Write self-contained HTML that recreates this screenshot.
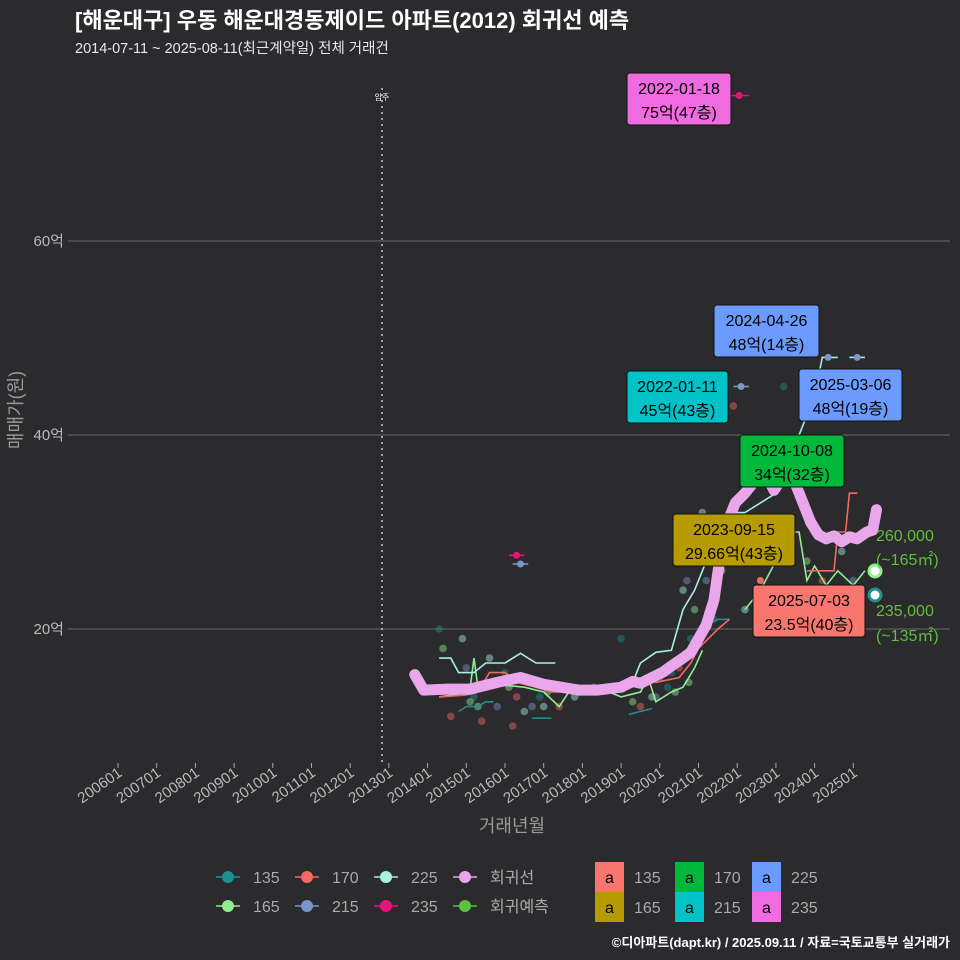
<!DOCTYPE html>
<html><head><meta charset="utf-8">
<style>
html,body{margin:0;padding:0;background:#2b2a2c;}
svg{display:block;font-family:"Liberation Sans","Noto Sans CJK KR",sans-serif;}
</style></head>
<body>
<svg id="chart" width="960" height="960" viewBox="0 0 960 960">
<rect width="960" height="960" fill="#2b2a2c"/>
<text x="75" y="28" fill="#ffffff" font-size="22" font-weight="bold">[해운대구] 우동 해운대경동제이드 아파트(2012) 회귀선 예측</text>
<text x="75" y="53" fill="#e8e8e8" font-size="14.5">2014-07-11 ~ 2025-08-11(최근계약일) 전체 거래건</text>
<g id="grid"></g>
<g id="xaxis"></g>
<g id="yaxis"></g>
<line x1="382" y1="88" x2="382" y2="762" stroke="#cccccc" stroke-width="1.5" stroke-dasharray="2,4"/>
<text x="382" y="100" fill="#ffffff" font-size="8" text-anchor="middle">입주</text>
<g id="points"></g>
<g id="lines"></g>
<g id="reg"></g>
<g id="labels"></g>
<text x="512" y="832" fill="#999999" font-size="18" text-anchor="middle">거래년월</text>
<text transform="translate(22,410) rotate(-90)" fill="#999999" font-size="18" text-anchor="middle">매매가(원)</text>
<g id="legend"></g>
<text x="950" y="947" fill="#ffffff" font-size="13" font-weight="bold" text-anchor="end">©디아파트(dapt.kr) / 2025.09.11 / 자료=국토교통부 실거래가</text>
</svg>
<script>
const NS="http://www.w3.org/2000/svg";
const yTicks=[20,40,60];
const yTickLabels=["20억","40억","60억"];
const xTickYears=[2006,2007,2008,2009,2010,2011,2012,2013,2014,2015,2016,2017,2018,2019,2020,2021,2022,2023,2024,2025];
const xTickLabels=["200601","200701","200801","200901","201001","201101","201201","201301","201401","201501","201601","201701","201801","201901","202001","202101","202201","202301","202401","202501"];
const s135=[[2014.8,11.5],[2015.0,12],[2015.3,12],[2015.5,12.5],[2015.7,12.5]];
const s135b=[[2016.7,10.8],[2017.2,10.8]];
const s135c=[[2019.2,11.2],[2019.5,11.5],[2019.8,11.8]];
const s135d=[[2021.2,20.5],[2021.5,21],[2021.8,21]];
const s165=[[2014.3,13],[2014.8,13.3],[2015.1,14],[2015.2,17],[2015.3,14],[2015.7,14.5],[2016.0,14.2],[2016.5,14],[2017.0,13.5],[2017.4,12],[2017.7,13.8],[2018.5,13.8],[2019.0,13],[2019.5,13.5],[2019.7,15],[2019.9,12.5],[2020.3,13.5],[2020.6,14],[2020.9,16],[2021.1,17.8]];
const s165b=[[2022.2,22],[2022.6,24],[2023.0,27],[2023.3,30],[2023.6,30],[2023.8,25],[2024.0,26.5],[2024.3,24.5],[2024.6,26],[2025.0,24.5],[2025.3,26]];
const s170=[[2014.3,13],[2015.0,13.2],[2015.3,13.5],[2015.6,15.5],[2016.0,15.5],[2016.3,14.5],[2016.8,14],[2017.2,13.5],[2018.3,13.5],[2019.0,14.5],[2019.5,14.8],[2019.9,14.5],[2020.5,15],[2020.8,16.5],[2021.0,18],[2021.5,20],[2021.8,21]];
const s170b=[[2023.8,26],[2024.5,26],[2024.6,30],[2024.8,30],[2024.9,34],[2025.1,34]];
const s215=[[2016.2,26.7],[2016.6,26.7]];
const s215b=[[2021.9,45],[2022.3,45]];
const s225=[[2014.3,17],[2014.6,17],[2014.8,15.5],[2015.2,15.5],[2015.5,16.5],[2016.0,16.5],[2016.4,17.5],[2016.8,16.5],[2017.3,16.5]];
const s225b=[[2019.3,14.5],[2019.5,16.5],[2019.9,17.6],[2020.3,17.8],[2020.6,22],[2020.9,24],[2021.1,26],[2021.3,28],[2021.6,31],[2021.9,32],[2022.2,32],[2022.6,33],[2023.0,34],[2023.3,36],[2023.6,40],[2024.0,44],[2024.2,48],[2024.6,48]];
const s225c=[[2024.9,48],[2025.3,48]];
const s235=[[2016.1,27.6],[2016.5,27.6]];
const s235b=[[2021.8,75],[2022.3,75]];
const regLine=[[2013.67,15.3],[2013.9,13.7],[2014.5,13.8],[2015.1,13.8],[2015.8,14.5],[2016.4,15],[2017.0,14.3],[2017.9,13.7],[2018.4,13.7],[2019.0,14],[2019.3,14.6],[2019.5,14.4],[2019.75,14.9],[2020.1,15.6],[2020.3,16.2],[2020.6,17],[2020.8,17.6],[2021.0,19],[2021.2,20.4],[2021.4,23],[2021.55,27.2],[2021.75,31],[2021.95,33],[2022.2,34],[2022.5,35.5],[2022.7,36.3],[2022.95,34.3],[2023.3,36.4],[2023.5,35],[2023.7,33],[2023.9,31],[2024.1,29.7],[2024.3,29.3],[2024.5,29.6],[2024.7,29],[2024.9,29.5],[2025.1,29.3],[2025.35,30],[2025.5,30.2],[2025.6,32.3]];
const ptYears=[2014.3,2014.4,2014.6,2014.9,2015.0,2015.2,2015.3,2015.4,2015.6,2015.8,2016.0,2016.1,2016.3,2016.5,2016.7,2016.9,2017.1,2017.4,2017.8,2018.3,2019.0,2019.3,2019.5,2019.8,2020.0,2020.2,2020.4,2020.5,2020.6,2020.7,2020.8,2020.9,2021.0,2021.1,2021.2,2021.4,2021.6,2021.9,2022.2,2022.7,2023.2,2023.8,2024.2,2024.7,2025.0,2014.5,2015.1,2016.2,2017.0,2019.9,2020.3,2020.75,2021.3];
const ptValues=[20,18,11,19,16,13,12,10.5,17,12,15.5,14,13,11.5,12,13,13.5,12,13,14,19,12.5,12,13,15,14,13.5,16,24,25,19,22,19,32,25,21,26,43,22,35,45,27,25,28,25,13.5,12.5,10,12,13,15.5,14.5,30];
const ptColors=["#1f8f8f","#90ee90","#f26b63","#a6f0e6","#7b96c8"];
const callDates=["2022-01-18","2024-04-26","2022-01-11","2025-03-06","2024-10-08","2023-09-15","2025-07-03"];
const callTexts=["75억(47층)","48억(14층)","45억(43층)","48억(19층)","34억(32층)","29.66억(43층)","23.5억(40층)"];
const callFill=["#f06ae0","#6b9bff","#00c3c8","#6b9bff","#00b93a","#b59a00","#f8766d"];
const callBox=[[627,73,104],[714,305,105],[627,371,101],[799,369,103],[740,435,104],[673,514,122],[753,585,112]];

const X=t=>118+(t-2006)*38.7;
const Y=v=>629-(v-20)*9.7;
function mk(tag,attrs,parent,name){const e=document.createElementNS(NS,tag);for(const k in attrs)e.setAttribute(k,attrs[k]);


parent.appendChild(e);return e;}
const g=id=>document.getElementById(id);
yTicks.forEach((v,i)=>{
 mk('line',{x1:68,x2:950,y1:Y(v),y2:Y(v),stroke:'#6a6a6a','stroke-width':1},g('grid'),'y-gridline');
 const t=mk('text',{x:64,y:Y(v)+5,fill:'#bbbbbb','font-size':15,'text-anchor':'end'},g('yaxis'),'y-tick-label');t.textContent=yTickLabels[i];
});
xTickYears.forEach((yr,i)=>{
 const x=X(yr);
 mk('line',{x1:x,x2:x,y1:763,y2:768,stroke:'#aaaaaa'},g('xaxis'),'x-tick');
 const t=mk('text',{transform:`translate(${x+5},775) rotate(-35)`,fill:'#bbbbbb','font-size':15,'text-anchor':'end'},g('xaxis'),'x-tick-label');t.textContent=xTickLabels[i];
});
ptYears.forEach((t,i)=>{
 mk('circle',{cx:X(t),cy:Y(ptValues[i]),r:3.8,fill:ptColors[i%ptColors.length],opacity:0.45},g('points'),'trade-point');
});
function line(arr,color,name,w){
 mk('path',{d:arr.map((p,i)=>(i?'L':'M')+X(p[0]).toFixed(1)+','+Y(p[1]).toFixed(1)).join(''),fill:'none',stroke:color,'stroke-width':w||1.6},g('lines'),name);
}
[s135,s135b,s135c,s135d].forEach(a=>line(a,'#1f8f8f','line-135'));
[s165,s165b].forEach(a=>line(a,'#90ee90','line-165'));
[s170,s170b].forEach(a=>line(a,'#f26b63','line-170'));
[s215,s215b].forEach(a=>line(a,'#7b96c8','line-215'));
[s225,s225b,s225c].forEach(a=>line(a,'#a6f0e6','line-225'));
[s235,s235b].forEach(a=>line(a,'#e8137b','line-235'));
[[2016.3,27.6,'#e8137b'],[2016.4,26.7,'#7b96c8'],[2022.05,75,'#e8137b'],[2022.1,45,'#7b96c8'],[2024.35,48,'#7b96c8'],[2025.1,48,'#7b96c8'],[2022.6,25,'#f26b63']].forEach(p=>
 mk('circle',{cx:X(p[0]),cy:Y(p[1]),r:3.5,fill:p[2]},g('lines'),'series-marker'));
mk('path',{d:regLine.map((p,i)=>(i?'L':'M')+X(p[0]).toFixed(1)+','+Y(p[1]).toFixed(1)).join(''),fill:'none',stroke:'#eaa6ea','stroke-width':11,'stroke-linecap':'round','stroke-linejoin':'round'},g('reg'),'regression-line');
mk('circle',{cx:875,cy:571,r:6,fill:'#fff',stroke:'#90ee90','stroke-width':3},g('reg'),'predict-165');
mk('circle',{cx:875,cy:595,r:6,fill:'#fff',stroke:'#1f8f8f','stroke-width':3},g('reg'),'predict-135');
[["260,000",541],["(~165㎡)",565],["235,000",616],["(~135㎡)",641]].forEach(a=>{
 const t=mk('text',{x:876,y:a[1],fill:'#5fbf3f','font-size':16},g('reg'),'predict-label');t.textContent=a[0];
});
callDates.forEach((d,i)=>{
 const [x,y,w]=callBox[i];
 mk('rect',{x:x,y:y,width:w,height:52,rx:3,fill:callFill[i],stroke:'#111','stroke-width':1},g('labels'),'callout-box');
 const t1=mk('text',{x:x+w/2,y:y+21,'font-size':16,'text-anchor':'middle',fill:'#000'},g('labels'),'callout-date');t1.textContent=d;
 const t2=mk('text',{x:x+w/2,y:y+45,'font-size':16,'text-anchor':'middle',fill:'#000'},g('labels'),'callout-value');t2.textContent=callTexts[i];
});
const legItems=[["135","#1f8f8f",228,877],["170","#f26b63",307,877],["225","#a6f0e6",386,877],["회귀선","#eaa6ea",465,877],["165","#90ee90",228,906],["215","#7b96c8",307,906],["235","#e8137b",386,906],["회귀예측","#5fbf3f",465,906]];
legItems.forEach(a=>{
 mk('line',{x1:a[2]-12,x2:a[2]+12,y1:a[3],y2:a[3],stroke:a[1],'stroke-width':1.5},g('legend'),'legend-line');
 mk('circle',{cx:a[2],cy:a[3],r:6,fill:a[1]},g('legend'),'legend-marker');
 const t=mk('text',{x:a[2]+25,y:a[3]+6,fill:'#aaaaaa','font-size':16},g('legend'),'legend-label');t.textContent=a[0];
});
const fillItems=[["135","#f8766d",595,862],["170","#00b93a",675,862],["225","#6b9bff",752,862],["165","#b59a00",595,892],["215","#00c3c8",675,892],["235","#f06ae0",752,892]];
fillItems.forEach(a=>{
 mk('rect',{x:a[2],y:a[3],width:29,height:30,fill:a[1]},g('legend'),'legend-fill-key');
 const k=mk('text',{x:a[2]+14.5,y:a[3]+21,fill:'#000','font-size':16,'text-anchor':'middle'},g('legend'),'legend-fill-glyph');k.textContent='a';
 const t=mk('text',{x:a[2]+39,y:a[3]+21,fill:'#aaaaaa','font-size':16},g('legend'),'legend-fill-label');t.textContent=a[0];
});
</script>
</body></html>
